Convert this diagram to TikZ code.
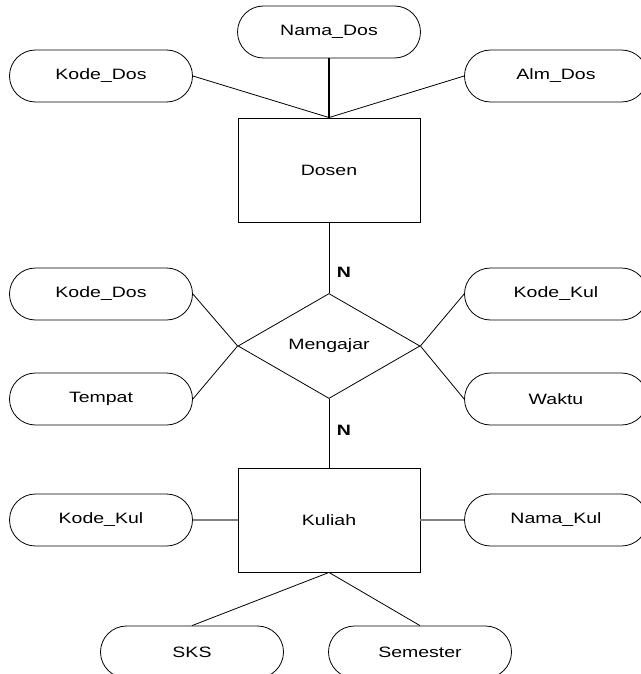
\documentclass[tikz,border=0pt]{standalone}
\usepackage{fontspec}
\setmainfont[FakeStretch=1.3]{Liberation Sans}
\usetikzlibrary{shapes.geometric}
\begin{document}
\begin{tikzpicture}[x=1pt,y=-1pt,
  every node/.style={font=\fontsize{15}{17}\selectfont, inner sep=0pt},
  attr/.style={draw, line width=0.8pt, rounded corners=26pt, minimum width=183pt, minimum height=52pt},
  entity/.style={draw, line width=0.9pt, minimum width=182pt, minimum height=104pt},
  rel/.style={draw, diamond, line width=0.8pt, minimum width=182pt, minimum height=105pt},
  link/.style={line width=0.8pt},
  card/.style={font=\fontsize{15}{17}\selectfont\bfseries}]
\useasboundingbox (0,0) rectangle (640,674);

% Dosen entity with its attributes
\node[entity] (dosen) at (329,170) {Dosen};
\node[attr] (namados) at (329,32) {Nama\_Dos};
\node[attr] (kodedos) at (101,76) {Kode\_Dos};
\node[attr] (almdos) at (556,76) {Alm\_Dos};

% Mengajar relationship with its attributes
\node[rel] (mengajar) at (329,346) {Mengajar};
\node[attr] (kodedosr) at (101,294) {Kode\_Dos};
\node[attr] (tempat) at (101,399) {Tempat};
\node[attr] (kodekulr) at (556,294) {Kode\_Kul};
\node[attr] (waktu) at (556,399) {Waktu};

% Kuliah entity with its attributes
\node[entity] (kuliah) at (329,520) {Kuliah};
\node[attr] (kodekul) at (101,520) {Kode\_Kul};
\node[attr] (namakul) at (556,520) {Nama\_Kul};
\node[attr] (sks) at (192,652) {SKS};
\node[attr] (semester) at (420,652) {Semester};

% cardinalities
\node[card] (n1) at (344,272) {N};
\node[card] (n2) at (344,430) {N};

% connectors
\draw[link] (kodedos.east) -- (dosen.north);
\draw[line width=1.6pt] (namados.south) -- (dosen.north);
\draw[link] (almdos.west) -- (dosen.north);
\draw[link] (dosen.south) -- (mengajar.north);
\draw[link] (mengajar.south) -- (kuliah.north);
\draw[link] (kodedosr.east) -- (mengajar.west);
\draw[link] (tempat.east) -- (mengajar.west);
\draw[link] (kodekulr.west) -- (mengajar.east);
\draw[link] (waktu.west) -- (mengajar.east);
\draw[line width=1.2pt, gray] (kodekul.east) -- (kuliah.west);
\draw[line width=1.2pt, gray] (namakul.west) -- (kuliah.east);
\draw[link] (kuliah.south) -- (sks.north);
\draw[link] (kuliah.south) -- (semester.north);
\end{tikzpicture}
\end{document}
